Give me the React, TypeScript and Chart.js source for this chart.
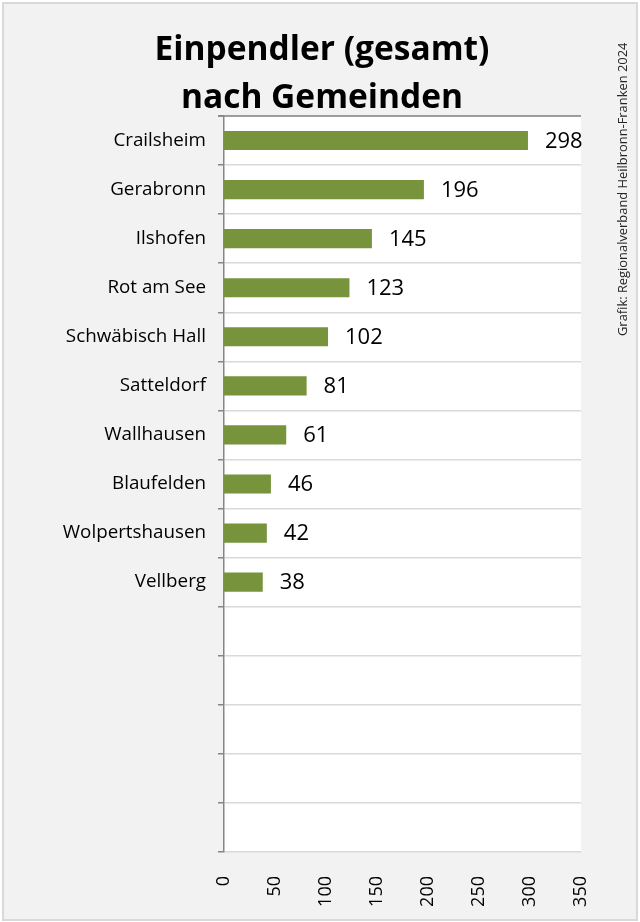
import React, { useEffect, useRef } from "react";
import { Chart, registerables } from "chart.js";

Chart.register(...registerables);

const categories = [
  "Crailsheim",
  "Gerabronn",
  "Ilshofen",
  "Rot am See",
  "Schwäbisch Hall",
  "Satteldorf",
  "Wallhausen",
  "Blaufelden",
  "Wolpertshausen",
  "Vellberg",
];
const values = [298, 196, 145, 123, 102, 81, 61, 46, 42, 38];
const emptySlots = 5;
const xMin = 0;
const xMax = 350;
const xStep = 50;
const titleLines = ["Einpendler (gesamt)", "nach Gemeinden"];
const sourceText = "Grafik: Regionalverband Heilbronn-Franken 2024";

const W = 640;
const H = 922;
const FONT = "'Open Sans', 'DejaVu Sans', sans-serif";

const framePlugin = {
  id: "frame",
  beforeDraw(chart: any) {
    const { ctx, chartArea } = chart;
    ctx.save();
    ctx.fillStyle = "#ffffff";
    ctx.fillRect(0, 0, W, H);
    ctx.fillStyle = "#f2f2f2";
    ctx.fillRect(3, 3, W - 6, H - 5);
    ctx.strokeStyle = "#d9d9d9";
    ctx.lineWidth = 2;
    ctx.strokeRect(3, 3, W - 6, H - 5);
    ctx.fillStyle = "#ffffff";
    ctx.fillRect(
      chartArea.left,
      chartArea.top,
      chartArea.right - chartArea.left,
      chartArea.bottom - chartArea.top
    );
    ctx.restore();
  },
  afterDraw(chart: any) {
    const { ctx, chartArea } = chart;
    ctx.save();
    // top border line of plot area
    ctx.strokeStyle = "#868686";
    ctx.lineWidth = 1.5;
    ctx.beginPath();
    ctx.moveTo(chartArea.left - 6, chartArea.top);
    ctx.lineTo(chartArea.right, chartArea.top);
    ctx.stroke();

    // title
    ctx.fillStyle = "#000000";
    ctx.font = `bold 33.5px ${FONT}`;
    ctx.textAlign = "center";
    ctx.textBaseline = "middle";
    titleLines.forEach((line, i) => {
      ctx.fillText(line, 322, 50 + i * 48);
    });

    // source text (vertical)
    ctx.save();
    ctx.translate(623, 336);
    ctx.rotate(-Math.PI / 2);
    ctx.font = `12.9px ${FONT}`;
    ctx.fillStyle = "#262626";
    ctx.textAlign = "left";
    ctx.textBaseline = "middle";
    ctx.fillText(sourceText, 0, 0);
    ctx.restore();

    // data labels
    const meta = chart.getDatasetMeta(0);
    const data = chart.data.datasets[0].data;
    ctx.font = `22px ${FONT}`;
    ctx.fillStyle = "#000000";
    ctx.textAlign = "left";
    ctx.textBaseline = "middle";
    meta.data.forEach((el: any, i: number) => {
      const v = data[i];
      if (v === null || v === undefined) return;
      ctx.fillText(String(v), el.x + 17, el.y + 1);
    });
    ctx.restore();
  },
};

export default function App() {
  const ref = useRef<HTMLCanvasElement | null>(null);

  useEffect(() => {
    if (!ref.current) return;
    const labels = [...categories, ...Array(emptySlots).fill("")];
    const data = [...values, ...Array(emptySlots).fill(null)];
    const chart = new Chart(ref.current, {
      type: "bar",
      data: {
        labels,
        datasets: [
          {
            data,
            backgroundColor: "#77933c",
            borderWidth: 0,
            categoryPercentage: 0.39,
            barPercentage: 1,
          },
        ],
      },
      options: {
        indexAxis: "y",
        animation: false,
        responsive: false,
        devicePixelRatio: 1,
        layout: { padding: { top: 116, left: 0, right: 59, bottom: 0 } },
        plugins: {
          legend: { display: false },
          title: { display: false },
          tooltip: { enabled: false },
        },
        scales: {
          x: {
            type: "linear",
            position: "bottom",
            min: xMin,
            max: xMax,
            ticks: {
              stepSize: xStep,
              minRotation: 90,
              maxRotation: 90,
              padding: 16,
              color: "#000000",
              font: { family: FONT, size: 18 },
            },
            grid: { display: false },
            border: { display: false },
            afterFit(scale: any) {
              scale.height = 70;
            },
          },
          y: {
            type: "category",
            position: "left",
            ticks: {
              padding: 12,
              color: "#000000",
              font: { family: FONT, size: 18.8 },
            },
            grid: {
              offset: true,
              color: "#d9d9d9",
              lineWidth: 1.5,
              tickColor: "#868686",
              tickLength: 6,
            },
            border: { display: true, color: "#868686", width: 1.5 },
            afterFit(scale: any) {
              scale.width = 224;
            },
          },
        },
      } as any,
      plugins: [framePlugin],
    });
    return () => chart.destroy();
  }, []);

  return (
    <div style={{ position: "absolute", left: 0, top: 0, width: W, height: H }}>
      <canvas ref={ref} width={W} height={H} style={{ display: "block", width: W, height: H }} />
    </div>
  );
}
